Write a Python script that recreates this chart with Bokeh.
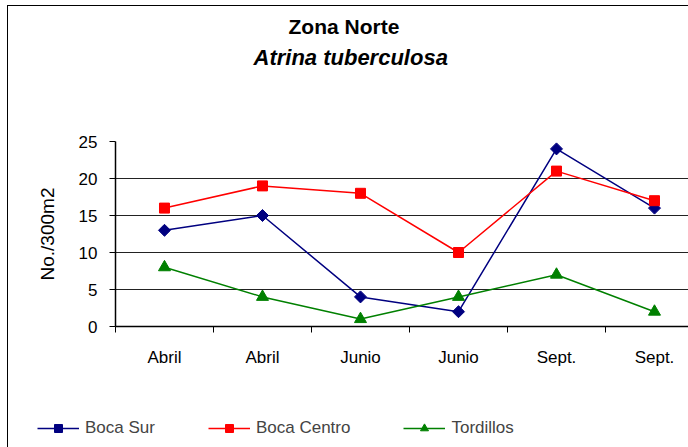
import numpy as np
from bokeh.plotting import figure
from bokeh.layouts import column
from bokeh.models import Range1d, FixedTicker, Legend, LegendItem, Title
from bokeh.embed import file_html
from bokeh.resources import INLINE

# ---- data ----
months = ["Abril", "Abril", "Junio", "Junio", "Sept.", "Sept."]
boca_sur = [13, 15, 4, 2, 24, 16]
boca_centro = [16, 19, 18, 10, 21, 17]
tordillos = [8, 4, 1, 4, 7, 2]
y_ticks = [0, 5, 10, 15, 20, 25]
title_text = "Zona Norte"
subtitle_text = "Atrina tuberculosa"
y_label = "No./300m2"

FONT = "Liberation Sans"
xs = [i + 0.5 for i in range(len(months))]

p = figure(width=680, height=394, output_backend="svg", toolbar_location=None,
           x_range=Range1d(0, 5.847), y_range=Range1d(0, 25),
           min_border_left=107, min_border_right=0, min_border_top=135, min_border_bottom=74)
p.outline_line_color = None
p.background_fill_color = "white"
p.border_fill_color = "white"

# axes
p.xaxis.ticker = FixedTicker(ticks=xs, minor_ticks=list(range(len(months) + 1)))
p.xaxis.major_label_overrides = {x: m for x, m in zip(xs, months)}
p.xaxis.major_tick_out = 0
p.xaxis.major_tick_in = 0
p.xaxis.minor_tick_out = 6
p.xaxis.minor_tick_in = 0
p.xaxis.major_label_standoff = 15
p.yaxis.ticker = FixedTicker(ticks=y_ticks)
p.yaxis.major_tick_out = 6
p.yaxis.major_tick_in = 0
p.yaxis.major_label_standoff = 12
p.yaxis.axis_label = y_label
p.yaxis.axis_label_standoff = 18
for ax in (p.xaxis, p.yaxis):
    ax.axis_line_color = "black"
    ax.axis_line_width = 1.5
    ax.major_tick_line_color = "black"
    ax.minor_tick_line_color = "black"
    ax.major_label_text_font = FONT
    ax.major_label_text_font_size = "17px"
    ax.major_label_text_color = "black"
    ax.axis_label_text_font = FONT
    ax.axis_label_text_font_style = "normal"
    ax.axis_label_text_font_size = "19px"
    ax.axis_label_text_color = "black"
p.yaxis.minor_tick_line_color = None
p.xgrid.grid_line_color = None
p.ygrid.ticker = FixedTicker(ticks=y_ticks)
p.ygrid.grid_line_color = "#222222"
p.ygrid.grid_line_width = 1

# titles: stacked in the top panel (first added sits nearest the frame)
p.add_layout(Title(text=" ", text_font_size="6px", standoff=58), "above")
p.add_layout(Title(text=subtitle_text, align="left", offset=138, vertical_align="top",
                   standoff=8, text_font=FONT, text_font_style="bold italic",
                   text_font_size="22px", text_color="black"), "above")
p.add_layout(Title(text=title_text, align="left", offset=173, vertical_align="middle",
                   standoff=4, text_font=FONT, text_font_style="bold",
                   text_font_size="21px", text_color="black"), "above")

# legend strip (its own frame, so the legend is not clipped by the plot area)
lg = figure(width=680, height=47, output_backend="svg", toolbar_location=None,
            x_range=Range1d(-100, -99), y_range=Range1d(-100, -99),
            min_border_left=0, min_border_right=0, min_border_top=0, min_border_bottom=0)
lg.axis.visible = False
lg.grid.visible = False
lg.outline_line_color = None
lg.background_fill_color = "white"
lg.border_fill_color = "white"
for fig in (p, lg):
    if "frame_align" in fig.properties():
        fig.frame_align = False

series = [
    ("Boca Sur", boca_sur, "#000080", "square", 8.5, np.pi / 4),
    ("Boca Centro", boca_centro, "#FF0000", "square", 10, 0),
    ("Tordillos", tordillos, "#008000", "triangle", 12, 0),
]
items = []
for name, vals, col, mk, sz, ang in series:
    p.line(xs, vals, line_color=col, line_width=1.5)
    p.scatter(xs, vals, marker=mk, size=sz, angle=ang, fill_color=col, line_color=col)
    l2 = lg.line(xs, vals, line_color=col, line_width=1.5)
    s2 = lg.scatter(xs, vals, marker=mk, size=sz, angle=ang, fill_color=col, line_color=col)
    items.append(LegendItem(label=name, renderers=[l2, s2]))

legend = Legend(items=items, orientation="horizontal", location=(29, 9),
                spacing=53, label_standoff=6, glyph_width=42, glyph_height=20,
                padding=0, margin=0, border_line_alpha=0, background_fill_alpha=0,
                label_text_font=FONT, label_text_font_size="17px")
lg.add_layout(legend, "center")

layout = column(p, lg, spacing=0)
layout.styles = {"border-left": "1px solid black", "border-top": "1px solid black",
                 "margin-left": "7px", "margin-top": "5px"}

open("out.html", "w").write(file_html(layout, INLINE))
